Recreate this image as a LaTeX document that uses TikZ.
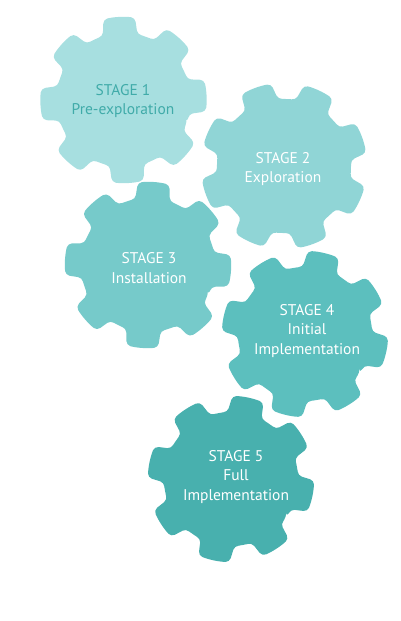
\documentclass[tikz,border=0pt]{standalone}
\usepackage{fontspec}
\setmainfont{PT Sans}
\definecolor{gA}{HTML}{A7DFE0}
\definecolor{gB}{HTML}{90D5D6}
\definecolor{gC}{HTML}{76CACA}
\definecolor{gD}{HTML}{5CBFBE}
\definecolor{gE}{HTML}{48B0AE}
\definecolor{tA}{HTML}{40ABA9}
\begin{document}
\begin{tikzpicture}[x=1pt,y=1pt,
  gearfill/.style={rounded corners=4pt},
  lbl/.style={align=center, font=\fontsize{15.5}{19.5}\selectfont, inner sep=0pt, text=white}]
\useasboundingbox (0,0) rectangle (400,621);
\def\RR{83}\def\rr{67}\def\at{11}\def\ar{15}
\newcommand\drawgear[4]{%
\begin{scope}[shift={(#1,621-#2)}]
\fill[gearfill,#4] ({#3-22.5}:\rr)
 \foreach \k in {0,...,7}{
   arc[start angle={#3+45*\k-22.5}, end angle={#3+45*\k-\ar}, radius=\rr]
   -- ({#3+45*\k-\at}:\RR)
   arc[start angle={#3+45*\k-\at}, end angle={#3+45*\k+\at}, radius=\RR]
   -- ({#3+45*\k+\ar}:\rr)
   arc[start angle={#3+45*\k+\ar}, end angle={#3+45*\k+22.5}, radius=\rr]
 } -- cycle;
\end{scope}}
\drawgear{123.5}{100}{3}{gA}
\drawgear{284}{166}{20}{gB}
\drawgear{148}{265}{-4}{gC}
\drawgear{305}{334}{-13}{gD}
\drawgear{231}{479}{-12}{gE}
\node[lbl,text=tA] (s1) at (123,621-101) {STAGE 1\\Pre-exploration};
\node[lbl] (s2) at (283,621-169) {STAGE 2\\Exploration};
\node[lbl] (s3) at (149,621-268) {STAGE 3\\Installation};
\node[lbl] (s4) at (307,621-331) {STAGE 4\\Initial\\Implementation};
\node[lbl] (s5) at (236,621-477) {STAGE 5\\Full\\Implementation};
\end{tikzpicture}
\end{document}
